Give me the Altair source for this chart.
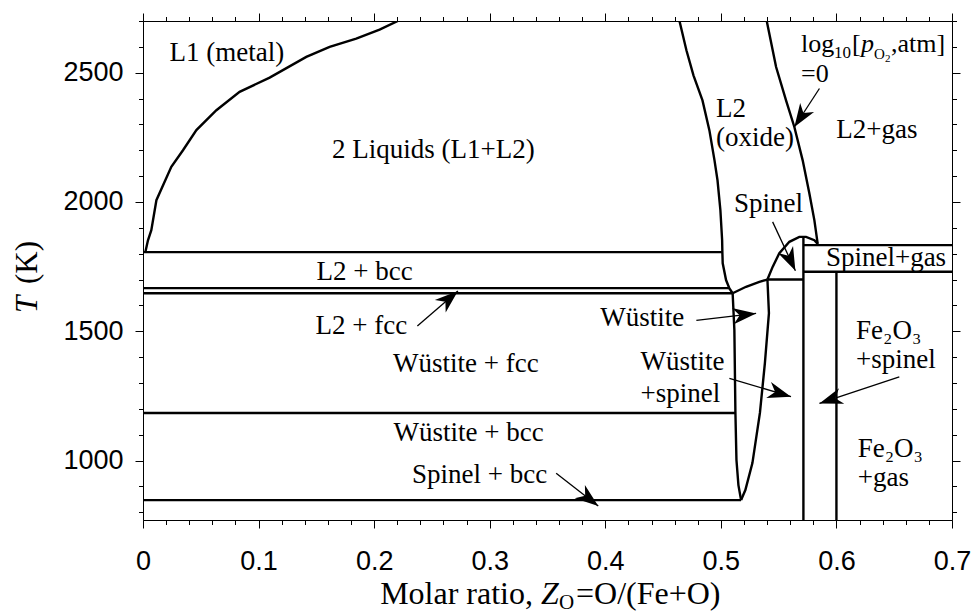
import math
import altair as alt
import pandas as pd

# ---------------------------------------------------------------
# Fe–O phase diagram: temperature vs. oxygen molar ratio Z_O
# ---------------------------------------------------------------
X_DOMAIN = [0.0, 0.7]
T_DOMAIN = [770, 2700]
W, H = 809, 499

SERIF = "Liberation Serif"
SANS = "Liberation Sans"

# liquidus of the metallic liquid L1 (edge of the miscibility gap)
metal_liq_x = [0.0020, 0.0043, 0.0072, 0.0116, 0.0245, 0.0346, 0.0462, 0.0635,
               0.0836, 0.1096, 0.1413, 0.1615, 0.1845, 0.2047, 0.2205]
metal_liq_T = [1806, 1852, 1891, 2007, 2136, 2200, 2278, 2355,
               2426, 2481, 2561, 2600, 2632, 2667, 2700]

# oxide liquid L2, low-oxygen boundary
oxide_liq_x = [0.4642, 0.4702, 0.4763, 0.4841, 0.4901, 0.4945, 0.4971, 0.4996,
               0.5011, 0.5013, 0.5016, 0.5045, 0.5074, 0.5102]
oxide_liq_T = [2700, 2587, 2490, 2393, 2277, 2161, 2084, 1968,
               1852, 1806, 1763, 1698, 1666, 1647]

# pO2 = 1 atm boundary (L2 / L2+gas)
gas_x = [0.5397, 0.5478, 0.5564, 0.5636, 0.5708, 0.5766, 0.5809, 0.5838]
gas_T = [2700, 2522, 2393, 2290, 2161, 2033, 1930, 1838]

# wüstite field
wus_left_x = [0.5102, 0.5117, 0.5126, 0.5135, 0.5152, 0.5175]
wus_left_T = [1647, 1504, 1184, 1002, 905, 847]
wus_top_x = [0.5102, 0.5218, 0.5333, 0.5403]
wus_top_T = [1647, 1672, 1691, 1700]
wus_right_x = [0.5403, 0.5416, 0.5381, 0.5338, 0.5273, 0.5212, 0.5175]
wus_right_T = [1700, 1570, 1377, 1184, 990, 886, 847]

# spinel liquidus dome
spinel_x = [0.5403, 0.5448, 0.5506, 0.5593, 0.5679, 0.5737, 0.5809, 0.5838]
spinel_T = [1700, 1749, 1802, 1846, 1865, 1865, 1852, 1838]

# invariant (horizontal) lines: start x, end x, temperature
iso_x0 = [0.0, 0.0, 0.0, 0.0, 0.0, 0.5403, 0.5714, 0.5714]
iso_x1 = [0.5013, 0.5074, 0.5102, 0.5126, 0.5175, 0.5714, 0.7, 0.7]
iso_T = [1806, 1667, 1647, 1184, 847, 1700, 1833, 1730]

# stoichiometric compounds: magnetite (Fe3O4) and hematite (Fe2O3)
comp_x = [4 / 7, 0.6]
comp_T_top = [1865, 1730]

# annotation arrows: tail (x, T) -> tip (x, T)
arrow_x0 = [0.5853, 0.5448, 0.2374, 0.4788, 0.5074, 0.6544, 0.3575]
arrow_T0 = [2439, 1923, 1520, 1542, 1318, 1324, 951]
arrow_x1 = [0.5636, 0.5645, 0.2725, 0.5305, 0.5607, 0.5853, 0.3939]
arrow_T1 = [2290, 1734, 1656, 1569, 1247, 1221, 824]

# region labels
lab_c_text = ["L1 (metal)", "2 Liquids (L1+L2)", "L2+gas", "Spinel", "Spinel+gas",
              "L2 + bcc", "L2 + fcc", "Wüstite", "Wüstite + fcc", "Wüstite + bcc",
              "Spinel + bcc"]
lab_c_x = [0.0725, 0.2513, 0.635, 0.5412, 0.6429, 0.1917, 0.1889, 0.432, 0.2793, 0.2817, 0.2912]
lab_c_T = [2575, 2200, 2278, 1994, 1782, 1729, 1520, 1553, 1373, 1105, 944]

lab_l_text = ["L2", "(oxide)", "Wüstite", "+spinel", "Fe₂O₃", "+spinel", "Fe₂O₃", "+gas"]
lab_l_x = [0.4959, 0.4959, 0.4304, 0.4304, 0.617, 0.617, 0.6184, 0.6184]
lab_l_T = [2360, 2248, 1382, 1257, 1502, 1389, 1045, 931]

x_major = [round(0.1 * i, 1) for i in range(8)]
x_minor = [round(0.02 * i, 2) for i in range(36)]
y_major = [1000, 1500, 2000, 2500]
y_minor = list(range(800, 2701, 100))

x_scale = alt.Scale(domain=X_DOMAIN, nice=False, zero=False)
y_scale = alt.Scale(domain=T_DOMAIN, nice=False, zero=False)


def X(field, axis=None):
    return alt.X(f"{field}:Q", scale=x_scale, axis=axis)


def Y(field, axis=None):
    return alt.Y(f"{field}:Q", scale=y_scale, axis=axis)


# ---- boundary table ----
rows = []


def add_curve(name, xs, ts):
    for i, (xv, tv) in enumerate(zip(xs, ts)):
        rows.append({"seg": name, "i": i, "x": xv, "T": tv})


add_curve("metal_liq", metal_liq_x, metal_liq_T)
add_curve("oxide_liq", oxide_liq_x, oxide_liq_T)
add_curve("gas", gas_x, gas_T)
add_curve("wus_left", wus_left_x, wus_left_T)
add_curve("wus_top", wus_top_x, wus_top_T)
add_curve("wus_right", wus_right_x, wus_right_T)
add_curve("spinel", spinel_x, spinel_T)
for k, (a, b, t) in enumerate(zip(iso_x0, iso_x1, iso_T)):
    add_curve(f"iso{k}", [a, b], [t, t])
for k, (xv, tt) in enumerate(zip(comp_x, comp_T_top)):
    add_curve(f"comp{k}", [xv, xv], [tt, T_DOMAIN[0]])
bounds = pd.DataFrame(rows)

# ---- axes (major + minor ticks on all four sides) ----
tick_common = dict(title=None, grid=False, domain=False, tickColor="black", tickWidth=1)
ax_bottom = alt.Axis(orient="bottom", values=x_major, format=".1~f", tickSize=8,
                     labelPadding=20, labelFont=SANS, labelFontSize=27, labelColor="black",
                     labelFlush=False, labelOverlap=False, **tick_common)
ax_bottom_minor = alt.Axis(orient="bottom", values=x_minor, tickSize=4.5, labels=False, **tick_common)
ax_top = alt.Axis(orient="top", values=x_major, tickSize=8, labels=False, **tick_common)
ax_top_minor = alt.Axis(orient="top", values=x_minor, tickSize=4.5, labels=False, **tick_common)
ax_left = alt.Axis(orient="left", values=y_major, format="d", tickSize=8,
                   labelPadding=12, labelFont=SANS, labelFontSize=27, labelColor="black",
                   labelFlush=False, labelOverlap=False, **tick_common)
ax_left_minor = alt.Axis(orient="left", values=y_minor, tickSize=4.5, labels=False, **tick_common)
ax_right = alt.Axis(orient="right", values=y_major, tickSize=8, labels=False, **tick_common)
ax_right_minor = alt.Axis(orient="right", values=y_minor, tickSize=4.5, labels=False, **tick_common)

corners = pd.DataFrame({"x": X_DOMAIN, "T": T_DOMAIN})


def frame(xaxis, yaxis):
    return alt.Chart(corners).mark_point(opacity=0).encode(x=X("x", xaxis), y=Y("T", yaxis))


lines = alt.Chart(bounds).mark_line(color="black", strokeWidth=2.4, clip=True).encode(
    x=X("x", ax_bottom), y=Y("T", ax_left), detail="seg:N", order="i:Q")

# ---- arrows ----
px_per_x = W / (X_DOMAIN[1] - X_DOMAIN[0])
px_per_T = H / (T_DOMAIN[1] - T_DOMAIN[0])
arrows = pd.DataFrame({"x0": arrow_x0, "T0": arrow_T0, "x1": arrow_x1, "T1": arrow_T1})
arrows["ang"] = [
    math.degrees(math.atan2((b - a) * px_per_x, (d - c) * px_per_T)) % 360
    for a, b, c, d in zip(arrows.x0, arrows.x1, arrows.T0, arrows.T1)
]

shafts = alt.Chart(arrows).mark_rule(color="black", strokeWidth=1.3).encode(
    x=X("x0"), y=Y("T0"), x2="x1:Q", y2="T1:Q")
HEAD = "M0,0L0.85,2.4L0,1.7L-0.85,2.4Z"
heads = alt.Chart(arrows).mark_point(shape=HEAD, filled=True, color="black", opacity=1,
                                     size=380, strokeWidth=0).encode(
    x=X("x1"), y=Y("T1"), angle=alt.Angle("ang:Q", scale=None))

# ---- region labels ----
LABEL_SIZE = 27
lab_c = pd.DataFrame({"t": lab_c_text, "x": lab_c_x, "T": lab_c_T})
lab_l = pd.DataFrame({"t": lab_l_text, "x": lab_l_x, "T": lab_l_T})
labels_c = alt.Chart(lab_c).mark_text(font=SERIF, fontSize=LABEL_SIZE, color="black",
                                      align="center", baseline="middle").encode(
    x=X("x"), y=Y("T"), text="t:N")
labels_l = alt.Chart(lab_l).mark_text(font=SERIF, fontSize=LABEL_SIZE, color="black",
                                      align="left", baseline="middle").encode(
    x=X("x"), y=Y("T"), text="t:N")


# log10[p_O2, atm] = 0 built from pieces (subscripts)
def piece(text, x, T, size=26, dx=0, dy=0, style="normal", baseline="alphabetic"):
    return alt.Chart(pd.DataFrame({"t": [text], "x": [x], "T": [T]})).mark_text(
        font=SERIF, fontSize=size, fontStyle=style, color="black", align="left",
        baseline=baseline, dx=dx, dy=dy).encode(x=X("x"), y=Y("T"), text="t:N")


PO2_X, PO2_T = 0.5694, 2579
po2 = [
    piece("log", PO2_X, PO2_T),
    piece("10", PO2_X, PO2_T, size=17, dx=33, dy=6),
    piece("[", PO2_X, PO2_T, dx=51),
    piece("p", PO2_X, PO2_T, dx=60, style="italic"),
    piece("O", PO2_X, PO2_T, size=15, dx=73, dy=7),
    piece("2", PO2_X, PO2_T, size=11, dx=84, dy=10),
    piece(",atm]", PO2_X, PO2_T, dx=90),
    piece("=0", PO2_X, 2464),
]


# ---- axis titles (mixed italic / subscript) ----
def title_piece(text, px, py, size, style="normal", angle=0, align="left", baseline="alphabetic"):
    return alt.Chart(pd.DataFrame({"t": [text]})).mark_text(
        font=SERIF, fontSize=size, fontStyle=style, color="black", align=align,
        baseline=baseline, angle=angle).encode(
        x=alt.value(px), y=alt.value(py), text="t:N")


titles = [
    title_piece("Molar ratio,", 390, 583, 32, align="right"),
    title_piece("Z", 398, 583, 32, style="italic"),
    title_piece("O", 416, 588, 21),
    title_piece("=O/(Fe+O)", 433, 583, 32),
    title_piece("T", -115, 292, 31, style="italic", angle=270, baseline="middle"),
    title_piece("(K)", -115, 263, 31, angle=270, baseline="middle"),
]

chart = alt.layer(
    lines,
    frame(ax_bottom_minor, ax_left_minor),
    frame(ax_top, ax_right),
    frame(ax_top_minor, ax_right_minor),
    shafts, heads, labels_c, labels_l, *po2, *titles,
).resolve_axis(x="independent", y="independent").properties(
    width=W, height=H,
    padding={"left": 143, "top": 21, "right": 21, "bottom": 95},
    autosize=alt.AutoSizeParams(type="none"),
    background="white",
).configure_view(stroke="black", strokeWidth=1)

chart.save("out.html", embed_options={"renderer": "svg", "actions": False})
